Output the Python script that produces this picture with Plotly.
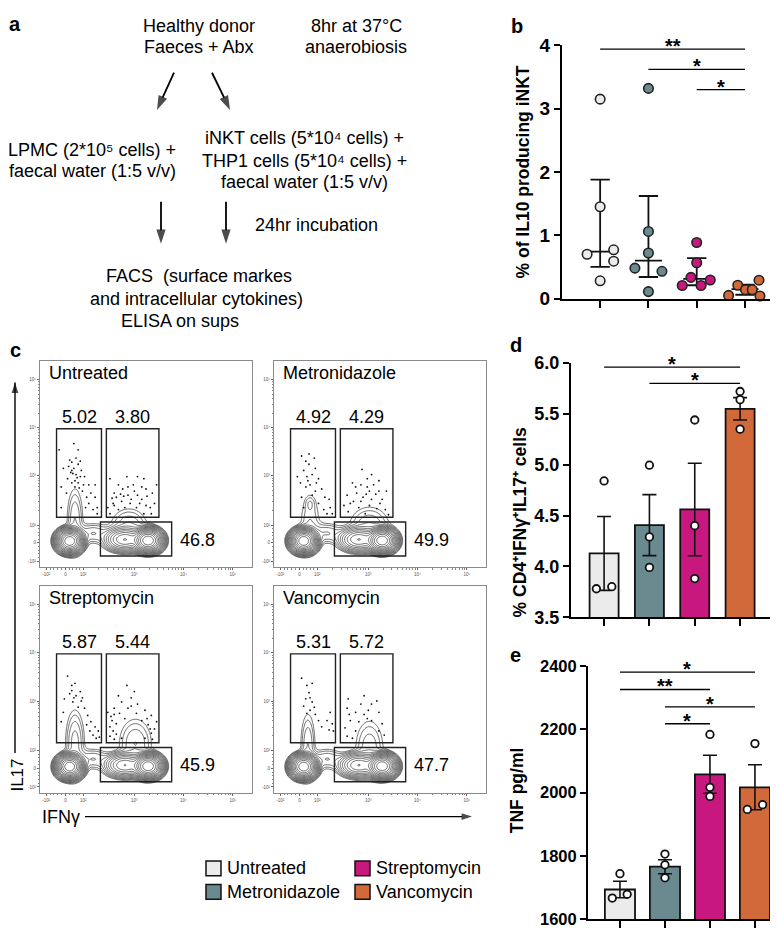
import numpy as np
import plotly.graph_objects as go

W, H = 778, 933
FONT = "Liberation Sans, Arial, Helvetica, sans-serif"

# ---------------- data ----------------
groups = ["Untreated", "Metronidazole", "Streptomycin", "Vancomycin"]
colors = ["#EBEBEB", "#6B8A90", "#C8177F", "#D2693A"]

# panel b : % of IL10 producing iNKT (median + IQR)
il10_vals = [[3.15, 1.45, 0.77, 0.70, 0.59, 0.28],
             [3.32, 1.06, 0.72, 0.48, 0.43, 0.11],
             [0.885, 0.566, 0.335, 0.293, 0.206, 0.206],
             [0.29, 0.21, 0.14, 0.14, 0.05, 0.04]]
il10_jit = [[0, 0, 0.28, -0.27, 0.28, 0],
            [0, 0, 0, -0.28, 0.28, 0],
            [0, 0, -0.12, 0.28, -0.30, 0.09],
            [0.29, -0.15, 0.01, 0.15, -0.34, 0.31]]
il10_median = [0.74, 0.60, 0.31, 0.15]
il10_q1 = [0.50, 0.34, 0.21, 0.06]
il10_q3 = [1.88, 1.62, 0.64, 0.22]
il10_sig = [(0, 3, 3.94, "**"), (1, 3, 3.62, "*"), (2, 3, 3.30, "*")]

# panel d : % CD4+IFNg+IL17+ cells (mean + SEM)
th17_vals = [[4.84, 3.78, 3.80], [4.995, 4.29, 3.99], [5.44, 4.40, 3.88], [5.72, 5.64, 5.35]]
th17_jit = [[0, -0.17, 0.17], [0, 0, 0], [0, 0, 0], [0, 0, 0]]
th17_mean = [4.127, 4.406, 4.56, 5.55]
th17_sem = [0.363, 0.30, 0.455, 0.11]
th17_sig = [(0, 3, 5.96, "*"), (1, 3, 5.80, "*")]

# panel e : TNF pg/ml (mean + SEM)
tnf_vals = [[1744, 1667, 1679], [1806, 1772, 1731], [2184, 2017, 1988], [2155, 1947, 1962]]
tnf_jit = [[0, -0.17, 0.16], [0, 0, 0], [0, 0, 0], [0, -0.17, 0.17]]
tnf_mean = [1694, 1766, 2058, 2017]
tnf_sem = [26, 22, 60, 71]
tnf_sig = [(0, 3, 2381, "*"), (0, 2, 2326, "**"), (1, 3, 2271, "*"), (1, 2, 2218, "*")]

# panel c : flow cytometry (display units 0..1 of the logicle scale)
flow_ticks = [0.03, 0.12, 0.204, 0.444, 0.677, 0.91]
flow_ticktext = ["-10²", "0", "10²", "10³", "10⁴", "10⁵"]
gate_pct1 = ["5.02", "4.92", "5.87", "5.31"]
gate_pct2 = ["3.80", "4.29", "5.44", "5.72"]
gate_pct3 = ["46.8", "49.9", "45.9", "47.7"]
# gates: x0, x1, y0, y1
gates = [(0.078, 0.290, 0.243, 0.672), (0.313, 0.561, 0.243, 0.672), (0.285, 0.621, 0.055, 0.220)]

# populations (cx, cy, sx, sy, weight) estimated from the contours
base_pops = [(0.14, 0.128, 0.024, 0.022, 1.0), (0.51, 0.13, 0.026, 0.022, 1.0),
             (0.40, 0.135, 0.04, 0.024, 0.10), (0.25, 0.165, 0.045, 0.028, 0.004)]
extra_pops = [
    [(0.165, 0.23, 0.022, 0.09, 0.004), (0.42, 0.20, 0.05, 0.05, 0.004)],
    [(0.17, 0.31, 0.014, 0.022, 0.0016), (0.17, 0.22, 0.03, 0.08, 0.0025), (0.45, 0.20, 0.055, 0.055, 0.004)],
    [(0.165, 0.24, 0.025, 0.09, 0.005), (0.45, 0.24, 0.045, 0.07, 0.004)],
    [(0.16, 0.23, 0.02, 0.09, 0.004), (0.45, 0.22, 0.04, 0.08, 0.0035)],
]

# event dots (x, y)
dots = [
    # Untreated
    [(0.09, 0.57), (0.14, 0.52), (0.15, 0.51), (0.17, 0.53), (0.18, 0.57), (0.18, 0.50), (0.16, 0.48),
     (0.145, 0.46), (0.17, 0.45), (0.19, 0.44), (0.13, 0.43), (0.15, 0.41), (0.195, 0.47), (0.11, 0.48),
     (0.21, 0.44), (0.23, 0.40), (0.24, 0.36), (0.26, 0.34), (0.27, 0.29), (0.25, 0.28), (0.27, 0.26),
     (0.10, 0.39), (0.125, 0.36), (0.165, 0.42), (0.18, 0.41), (0.20, 0.37), (0.23, 0.31), (0.15, 0.47),
     (0.135, 0.49), (0.19, 0.515), (0.22, 0.34), (0.26, 0.40), (0.10, 0.29), (0.16, 0.60),
     (0.175, 0.435), (0.155, 0.455), (0.165, 0.39), (0.185, 0.385), (0.205, 0.40), (0.215, 0.29),
     (0.33, 0.43), (0.37, 0.40), (0.35, 0.36), (0.39, 0.38), (0.415, 0.39), (0.445, 0.37), (0.46, 0.44),
     (0.49, 0.43), (0.50, 0.38), (0.53, 0.36), (0.54, 0.31), (0.52, 0.29), (0.48, 0.33), (0.43, 0.33),
     (0.385, 0.32), (0.345, 0.31), (0.32, 0.29), (0.40, 0.29), (0.455, 0.29), (0.37, 0.28), (0.49, 0.26),
     (0.415, 0.35), (0.46, 0.35), (0.44, 0.40), (0.36, 0.34), (0.55, 0.40), (0.525, 0.26), (0.33, 0.26),
     (0.41, 0.44), (0.48, 0.39), (0.35, 0.30), (0.395, 0.345), (0.47, 0.31), (0.505, 0.345), (0.425, 0.31),
     (0.34, 0.335), (0.50, 0.30), (0.38, 0.355)],
    # Metronidazole
    [(0.13, 0.54), (0.15, 0.515), (0.165, 0.50), (0.19, 0.53), (0.195, 0.48), (0.14, 0.47), (0.18, 0.45),
     (0.155, 0.44), (0.21, 0.43), (0.125, 0.41), (0.17, 0.40), (0.15, 0.39), (0.195, 0.37), (0.225, 0.38),
     (0.24, 0.34), (0.26, 0.33), (0.265, 0.29), (0.25, 0.26), (0.13, 0.34), (0.21, 0.31), (0.18, 0.35),
     (0.235, 0.28), (0.275, 0.26), (0.14, 0.29), (0.165, 0.55), (0.11, 0.44), (0.16, 0.42), (0.20, 0.41),
     (0.415, 0.475), (0.46, 0.45), (0.44, 0.43), (0.37, 0.41), (0.41, 0.40), (0.47, 0.40), (0.495, 0.37),
     (0.45, 0.37), (0.39, 0.36), (0.345, 0.35), (0.42, 0.34), (0.46, 0.33), (0.51, 0.33), (0.375, 0.32),
     (0.33, 0.30), (0.40, 0.29), (0.45, 0.30), (0.485, 0.285), (0.525, 0.28), (0.35, 0.27), (0.43, 0.26),
     (0.54, 0.255), (0.385, 0.39), (0.495, 0.42), (0.53, 0.37), (0.435, 0.355), (0.48, 0.355),
     (0.36, 0.31), (0.44, 0.39), (0.50, 0.31), (0.41, 0.32)],
    # Streptomycin
    [(0.13, 0.565), (0.15, 0.52), (0.165, 0.53), (0.14, 0.48), (0.17, 0.47), (0.19, 0.49), (0.115, 0.455),
     (0.155, 0.44), (0.195, 0.445), (0.21, 0.41), (0.18, 0.415), (0.11, 0.39), (0.225, 0.375), (0.24, 0.345),
     (0.26, 0.32), (0.275, 0.30), (0.265, 0.265), (0.235, 0.30), (0.10, 0.345), (0.22, 0.33), (0.28, 0.27),
     (0.25, 0.28), (0.15, 0.495), (0.16, 0.46), (0.20, 0.46),
     (0.41, 0.52), (0.43, 0.46), (0.385, 0.44), (0.46, 0.43), (0.35, 0.41), (0.415, 0.41), (0.495, 0.40),
     (0.375, 0.385), (0.455, 0.385), (0.525, 0.375), (0.335, 0.37), (0.40, 0.36), (0.48, 0.35), (0.36, 0.335),
     (0.33, 0.32), (0.51, 0.33), (0.54, 0.31), (0.345, 0.30), (0.525, 0.29), (0.33, 0.275), (0.385, 0.265),
     (0.495, 0.265), (0.53, 0.26), (0.35, 0.26), (0.55, 0.345), (0.32, 0.39), (0.445, 0.49), (0.37, 0.47),
     (0.34, 0.35), (0.36, 0.285), (0.52, 0.31), (0.505, 0.36), (0.35, 0.38), (0.43, 0.42)],
    # Vancomycin
    [(0.13, 0.555), (0.155, 0.52), (0.165, 0.485), (0.15, 0.455), (0.18, 0.44), (0.17, 0.40), (0.155, 0.385),
     (0.19, 0.415), (0.14, 0.42), (0.265, 0.39), (0.25, 0.35), (0.275, 0.335), (0.26, 0.305), (0.28, 0.30),
     (0.225, 0.32), (0.195, 0.38), (0.18, 0.53), (0.21, 0.35), (0.17, 0.46),
     (0.35, 0.455), (0.345, 0.41), (0.385, 0.39), (0.425, 0.47), (0.41, 0.43), (0.46, 0.43), (0.485, 0.445),
     (0.445, 0.40), (0.495, 0.39), (0.36, 0.35), (0.40, 0.345), (0.46, 0.35), (0.51, 0.335), (0.335, 0.315),
     (0.385, 0.30), (0.495, 0.30), (0.52, 0.28), (0.345, 0.275), (0.425, 0.38), (0.37, 0.265),
     (0.44, 0.36), (0.355, 0.38)],
]


# ---------------- helpers ----------------
def dx(a, b):
    return [a / W, b / W]


def dy(top, bot):
    return [1 - bot / H, 1 - top / H]


def px(x):
    return x / W


def py(y):
    return 1 - y / H


fig = go.Figure()
ann = []
shapes = []

REG = dict(family=FONT, size=18, color="black")
TITLE = dict(family=FONT, size=17.5, color="black", weight="bold")

# ---------------- panel b ----------------
lx, ly = [], []
for i in range(4):
    lx += [i - 0.28, i + 0.28, None]
    ly += [il10_median[i], il10_median[i], None]
    lx += [i - 0.2, i + 0.2, None, i - 0.2, i + 0.2, None, i, i, None]
    ly += [il10_q1[i], il10_q1[i], None, il10_q3[i], il10_q3[i], None, il10_q1[i], il10_q3[i], None]
fig.add_trace(go.Scatter(x=lx, y=ly, mode="lines", line=dict(color="#111", width=1.8),
                         xaxis="x", yaxis="y", showlegend=False, cliponaxis=False))
for i in range(4):
    fig.add_trace(go.Scatter(x=[i + j for j in il10_jit[i]], y=il10_vals[i], mode="markers",
                             marker=dict(size=9.5, color=colors[i], line=dict(color="#222", width=1.6)),
                             xaxis="x", yaxis="y", showlegend=False, cliponaxis=False))


def add_sig(sig, xa, ya, fs=20):
    for (a, b, h, s) in sig:
        fig.add_trace(go.Scatter(x=[a, b], y=[h, h], mode="lines", line=dict(color="black", width=1.4),
                                 xaxis=xa, yaxis=ya, showlegend=False, cliponaxis=False))
        ann.append(dict(x=(a + b) / 2, y=h, xref=xa, yref=ya, text=s, showarrow=False,
                        font=dict(family=FONT, size=fs, color="black", weight="bold"),
                        yanchor="middle", yshift=3))


add_sig(il10_sig, "x", "y")

# ---------------- panel d ----------------
fig.add_trace(go.Bar(x=[0, 1, 2, 3], y=th17_mean, width=0.64, marker=dict(color=colors, line=dict(color="#111", width=1.8)),
                     error_y=dict(type="data", array=th17_sem, color="#111", thickness=1.6, width=7),
                     xaxis="x2", yaxis="y2", showlegend=False))
for i in range(4):
    fig.add_trace(go.Scatter(x=[i + j for j in th17_jit[i]], y=th17_vals[i], mode="markers",
                             marker=dict(size=7.5, color="white", line=dict(color="#111", width=1.8)),
                             xaxis="x2", yaxis="y2", showlegend=False, cliponaxis=False))
add_sig(th17_sig, "x2", "y2")

# ---------------- panel e ----------------
fig.add_trace(go.Bar(x=[0, 1, 2, 3], y=tnf_mean, width=0.67, marker=dict(color=colors, line=dict(color="#111", width=1.8)),
                     error_y=dict(type="data", array=tnf_sem, color="#111", thickness=1.6, width=7),
                     xaxis="x3", yaxis="y3", showlegend=False))
for i in range(4):
    fig.add_trace(go.Scatter(x=[i + j for j in tnf_jit[i]], y=tnf_vals[i], mode="markers",
                             marker=dict(size=7.5, color="white", line=dict(color="#111", width=1.8)),
                             xaxis="x3", yaxis="y3", showlegend=False, cliponaxis=False))
add_sig(tnf_sig, "x3", "y3")

# ---------------- panel c ----------------
grid = np.linspace(0, 1, 241)
GX, GY = np.meshgrid(grid, grid)
flow_boxes = [(32, 244, 351, 562), (266, 478, 351, 562), (32, 244, 581, 793), (266, 478, 581, 793)]
minor = []
for d0, d1 in [(0.204, 0.444), (0.444, 0.677), (0.677, 0.91)]:
    for k in range(2, 10):
        minor.append(d0 + np.log10(k) * (d1 - d0))
for d0, d1 in [(0.03, 0.12), (0.12, 0.204)]:
    for k in range(1, 5):
        minor.append(d0 + k * (d1 - d0) / 5)

for p in range(4):
    xa, ya = f"x{p + 4}", f"y{p + 4}"
    dens = np.zeros_like(GX)
    for (cx, cy, sx, sy, w) in base_pops + extra_pops[p]:
        dens += w * np.exp(-((GX - cx) ** 2) / (2 * sx ** 2) - ((GY - cy) ** 2) / (2 * sy ** 2))
    z = np.log10(dens + 1e-12)
    fig.add_trace(go.Contour(x=grid, y=grid, z=z, contours=dict(coloring="lines", start=-3.0, end=-0.1, size=0.2),
                             line=dict(width=0.75), colorscale=[[0, "#3a3a3a"], [1, "#3a3a3a"]], showscale=False,
                             xaxis=xa, yaxis=ya, hoverinfo="skip"))
    fig.add_trace(go.Scatter(x=[d[0] for d in dots[p]], y=[d[1] for d in dots[p]], mode="markers",
                             marker=dict(size=1.8, color="#111"), xaxis=xa, yaxis=ya, showlegend=False))
    for (gx0, gx1, gy0, gy1) in gates:
        shapes.append(dict(type="rect", xref=xa, yref=ya, x0=gx0, x1=gx1, y0=gy0, y1=gy1,
                           line=dict(color="#222", width=1.4)))
    ann.append(dict(x=0.031, y=0.94, xref=xa, yref=ya, text=groups[p], showarrow=False, xanchor="left",
                    font=REG))
    ann.append(dict(x=(gates[0][0] + gates[0][1]) / 2, y=0.731, xref=xa, yref=ya, text=gate_pct1[p],
                    showarrow=False, font=REG))
    ann.append(dict(x=(gates[1][0] + gates[1][1]) / 2, y=0.731, xref=xa, yref=ya, text=gate_pct2[p],
                    showarrow=False, font=REG))
    ann.append(dict(x=0.65, y=0.134, xref=xa, yref=ya, text=gate_pct3[p], showarrow=False, xanchor="left",
                    font=REG))


# ---------------- layout axes ----------------
def bar_x(dom, rng, anchor):
    return dict(domain=dom, range=rng, anchor=anchor, showline=True, linewidth=2, linecolor="black",
                tickmode="array", tickvals=[0, 1, 2, 3], showticklabels=False, ticks="outside", ticklen=7,
                tickwidth=2, tickcolor="black", showgrid=False, zeroline=False)


def bar_y(dom, rng, anchor, tv, tt, fs):
    return dict(domain=dom, range=rng, anchor=anchor, showline=True, linewidth=2, linecolor="black",
                tickmode="array", tickvals=tv, ticktext=tt, ticks="outside", ticklen=6, tickwidth=2,
                tickcolor="black", showgrid=False, zeroline=False,
                tickfont=dict(family=FONT, size=fs, color="black", weight="bold"))


layout_axes = dict(
    xaxis=bar_x(dx(554, 765), [-0.79, 3.58], "y"),
    yaxis=bar_y(dy(28, 287), [0, 4], "x", [0, 1, 2, 3, 4], ["0", "1", "2", "3", "4"], 19),
    xaxis2=bar_x(dx(563, 762), [-0.73, 3.66], "y2"),
    yaxis2=bar_y(dy(353, 613), [3.5, 6.0], "x2", [3.5, 4, 4.5, 5, 5.5, 6],
                 ["3.5", "4.0", "4.5", "5.0", "5.5", "6.0"], 18),
    xaxis3=bar_x(dx(580, 778), [-0.71, 3.69], "y3"),
    yaxis3=bar_y(dy(663, 922), [1600, 2400], "x3", [1600, 1800, 2000, 2200, 2400],
                 ["1600", "1800", "2000", "2200", "2400"], 16.5),
)

for p in range(4):
    x0, x1, t, b = flow_boxes[p]
    common = dict(range=[0, 1], showline=True, mirror=True, linewidth=1, linecolor="#8a8a8a", tickmode="array",
                  tickvals=flow_ticks, ticktext=flow_ticktext, ticks="outside", ticklen=2, tickwidth=0.8,
                  tickcolor="#666", tickfont=dict(family=FONT, size=4.5, color="#555"), showgrid=False,
                  zeroline=False, minor=dict(tickvals=minor, ticks="outside", ticklen=1.2, tickcolor="#888"))
    layout_axes[f"xaxis{p + 4}"] = dict(common, domain=dx(x0, x1), anchor=f"y{p + 4}")
    layout_axes[f"yaxis{p + 4}"] = dict(common, domain=dy(t, b), anchor=f"x{p + 4}")

# overlay axis in page pixels for the flow-chart / axis arrows
layout_axes["xaxis8"] = dict(domain=[0, 1], range=[0, W], visible=False, anchor="y8", fixedrange=True)
layout_axes["yaxis8"] = dict(domain=[0, 1], range=[H, 0], visible=False, anchor="x8", fixedrange=True)


# ---------------- panel a (flow chart) ----------------
def txt(x, y, s, font=REG, xanchor="center"):
    ann.append(dict(x=px(x), y=py(y), xref="paper", yref="paper", text=s, showarrow=False, font=font,
                    xanchor=xanchor, yanchor="middle"))


def arrow(hx, hy, tx, ty, w=1.8, hs=15):
    fig.add_trace(go.Scatter(x=[tx, hx], y=[ty, hy], mode="lines+markers", xaxis="x8", yaxis="y8",
                             line=dict(color="black", width=w),
                             marker=dict(symbol="arrow", size=[0, hs], angleref="previous", color="black",
                                         line=dict(width=0)),
                             showlegend=False, hoverinfo="skip", cliponaxis=False))


txt(191, 8, "Healthy donor")
txt(191, 30, "Faeces + Abx")
txt(348, 8, "8hr at 37°C")
txt(348, 30, "anaerobiosis")
arrow(149, 94, 166, 56)
arrow(222, 94, 204, 56)
txt(84, 135, "LPMC (2*10⁵ cells) +")
txt(84, 157, "faecal water (1:5 v/v)")
txt(296, 123, "iNKT cells (5*10⁴ cells) +")
txt(296, 146, "THP1 cells (5*10⁴ cells) +")
txt(296, 168, "faecal water (1:5 v/v)")
arrow(153, 231, 153, 188)
arrow(218, 231, 218, 188)
txt(308, 212, "24hr incubation")
txt(191, 264, "FACS  (surface markes")
txt(188, 287, "and intracellular cytokines)")
txt(172, 310, "ELISA on sups")

# panel letters
LET = dict(family=FONT, size=20, color="black", weight="bold")
txt(7, 6, "a", LET)
txt(509, 8, "b", LET)
txt(7, 340, "c", LET)
txt(508, 335, "d", LET)
txt(507, 652, "e", LET)

# y-axis titles of bar panels
for (x, y, s) in [(515, 158, "% of IL10 producing iNKT"),
                  (512, 516, "% CD4⁺IFNγ⁺IL17⁺ cells"),
                  (509, 790, "TNF pg/ml")]:
    ann.append(dict(x=px(x), y=py(y), xref="paper", yref="paper", text=s, showarrow=False, textangle=-90,
                    font=TITLE, xanchor="center", yanchor="middle"))

# flow axis arrows and labels
arrow(7, 373, 7, 752, w=1.4, hs=11)
ann.append(dict(x=px(10), y=py(775), xref="paper", yref="paper", text="IL17", showarrow=False, textangle=-90,
                font=dict(family=FONT, size=17, color="black"), xanchor="center", yanchor="middle"))
txt(53, 817, "IFNγ")
arrow(464, 817, 77, 817, w=1.4, hs=11)

# legend
leg_pos = [(198, 870), (198, 894), (347, 870), (347, 894)]
for i, (lxp, lyp) in enumerate(leg_pos):
    shapes.append(dict(type="rect", xref="paper", yref="paper", x0=px(lxp), x1=px(lxp + 15),
                       y0=py(lyp + 7.5), y1=py(lyp - 7.5), fillcolor=colors[i], line=dict(color="#111", width=1.5)))
    txt(lxp + 19, lyp, groups[i], REG, xanchor="left")

fig.update_layout(width=W, height=H, margin=dict(l=0, r=0, t=0, b=0), plot_bgcolor="rgba(0,0,0,0)",
                  paper_bgcolor="white", showlegend=False, annotations=ann, shapes=shapes,
                  font=dict(family=FONT), **layout_axes)

fig.write_html("out.html")
